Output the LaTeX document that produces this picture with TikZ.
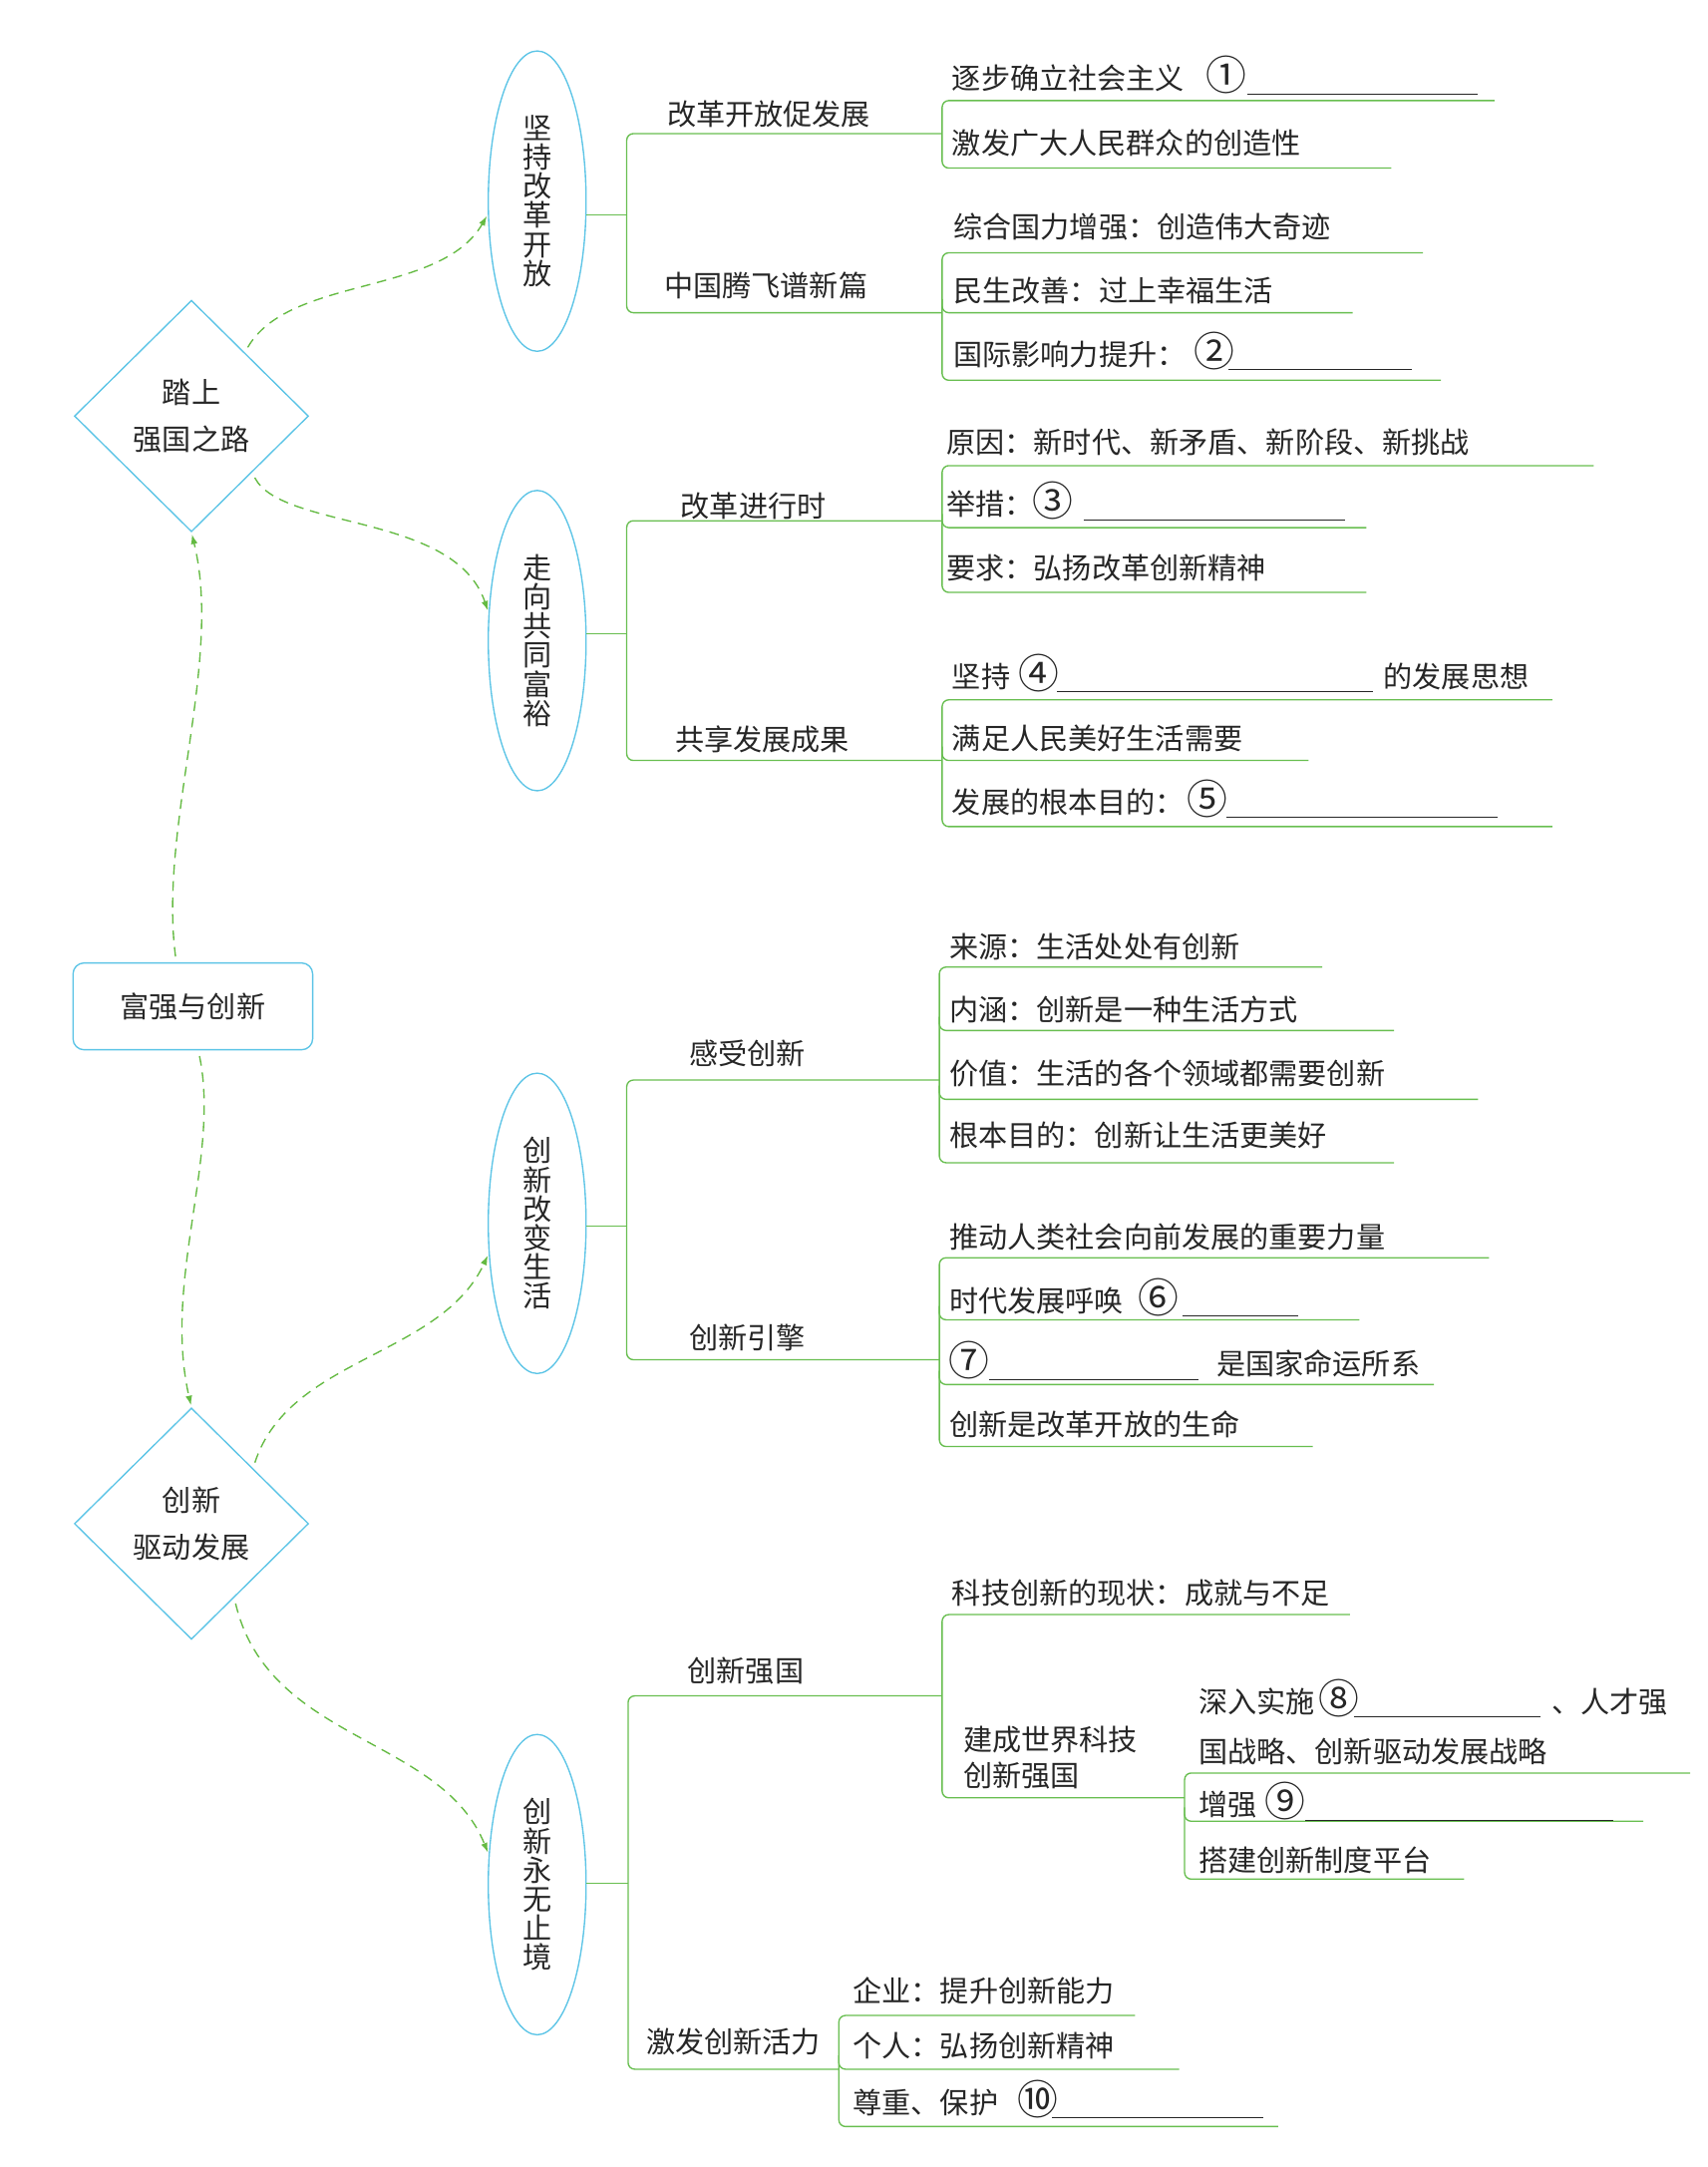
\documentclass[tikz,border=0pt]{standalone}
\usepackage{fontspec}
\setmainfont{Noto Sans CJK SC}
\usetikzlibrary{arrows.meta, shapes.geometric, positioning}

\definecolor{nodeblue}{RGB}{92,196,230}
\definecolor{linegreen}{RGB}{104,190,80}
\definecolor{dashgreen}{RGB}{100,186,66}
\definecolor{inkgray}{RGB}{38,38,38}

\newcommand{\gapline}[1]{\rule[-0.9mm]{#1mm}{0.5pt}}
\newcommand{\qnum}[1]{\makebox[15pt][c]{\raisebox{-0.6pt}{\fontsize{21}{18}\selectfont #1}}}

\tikzset{
  topic/.style={shape=ellipse, draw=nodeblue, line width=0.7pt, minimum width=17.75mm, minimum height=54.5mm, inner sep=0pt, align=center, text=inkgray, font=\fontsize{15}{15}\selectfont},
  stage/.style={shape=diamond, draw=nodeblue, line width=0.7pt, minimum width=42.5mm, minimum height=42mm, inner sep=0pt, align=center, text=inkgray, font=\fontsize{15}{24}\selectfont},
  hub/.style={draw=nodeblue, line width=0.7pt, rounded corners=2mm, minimum width=43.5mm, minimum height=15.75mm, text=inkgray, font=\fontsize{15}{18}\selectfont},
  leaf/.style={anchor=base west, inner sep=0pt, text=inkgray, font=\fontsize{15}{18}\selectfont},
  twig/.style={draw=linegreen, line width=0.7pt, rounded corners=1.2mm},
  flow/.style={draw=dashgreen, line width=0.7pt, dash pattern=on 5pt off 3.5pt, -{Latex[length=5pt,width=3.5pt]}, shorten <=3pt, shorten >=1pt}
}

\begin{document}
\begin{tikzpicture}[x=0.25mm, y=-0.25mm]
\useasboundingbox (0,0) rectangle (1240,1573);

% left column
\node [stage] (road) at (139,302) {踏上\\强国之路};
\node [hub] (hub) at (140,730.5) {富强与创新};
\node [stage] (drive) at (139,1106) {创新\\驱动发展};

\node [topic] (reform) at (390,146) {坚\\持\\改\\革\\开\\放};
\node [topic] (common) at (390,465) {走\\向\\共\\同\\富\\裕};
\node [topic] (life) at (390,888) {创\\新\\改\\变\\生\\活};
\node [topic] (endless) at (390,1368) {创\\新\\永\\无\\止\\境};

\draw [flow] (road.50) .. controls (210,200) and (320,215) .. (reform.195);
\draw [flow] (road.-43) .. controls (205,385) and (330,372) .. (common.150);
\draw [flow] ([xshift=-3mm]hub.north) .. controls (115,600) and (162,480) .. (road.south);
\draw [flow] ([xshift=1mm]hub.south) .. controls (160,840) and (118,930) .. (drive.north);
\draw [flow] (drive.42) .. controls (210,985) and (320,985) .. (life.212);
\draw [flow] (drive.-60) .. controls (195,1265) and (320,1260) .. (endless.148);

% 坚持改革开放
\coordinate (ja) at (455,156);
\draw [twig] (reform.east |- ja) -- (ja);
\draw [twig] (684,97) -- (455,97) -- (455,227) -- (684,227);
\node [leaf] (kf) at (484,91) {改革开放促发展};
\node [leaf] (tf) at (482,215) {中国腾飞谱新篇};

\draw [twig] (1085,73) -- (684,73) -- (684,122) -- (1010,122);
\node [leaf] (kf1) at (691,65) {逐步确立社会主义\hspace{5mm}\qnum{①}\hspace{1.2mm}\gapline{41.75}};
\node [leaf] (kf2) at (691,112) {激发广大人民群众的创造性};

\draw [twig] (1033,183.5) -- (684,183.5) -- (684,276) -- (1046,276);
\draw [twig] (684,217) |- (982,227);
\node [leaf] (tf1) at (692,173) {综合国力增强：创造伟大奇迹};
\node [leaf] (tf2) at (692,219) {民生改善：过上幸福生活};
\node [leaf] (tf3) at (692,265) {国际影响力提升：\hspace{2.5mm}\qnum{②}\gapline{33.25}};

% 走向共同富裕
\coordinate (jb) at (455,460);
\draw [twig] (common.east |- jb) -- (jb);
\draw [twig] (684,378) -- (455,378) -- (455,552) -- (684,552);
\node [leaf] (jx) at (494,375) {改革进行时};
\node [leaf] (gx) at (490,545) {共享发展成果};

\draw [twig] (1157,338) -- (684,338) -- (684,430) -- (992,430);
\draw [twig] (684,373) |- (992,383);
\node [leaf] (jx1) at (687,329) {原因：新时代、新矛盾、新阶段、新挑战};
\node [leaf] (jx2) at (687,374) {举措：\hspace{0.75mm}\qnum{③}\hspace{3mm}\gapline{47.5}};
\node [leaf] (jx3) at (687,420) {要求：弘扬改革创新精神};

\draw [twig] (1127,508) -- (684,508) -- (684,600) -- (1127,600);
\draw [twig] (684,542) |- (950,552);
\node [leaf] (gx1) at (691,499) {坚持\hspace{2.5mm}\qnum{④}\hspace{0.75mm}\gapline{57.25}\hspace{2mm}的发展思想};
\node [leaf] (gx2) at (691,544) {满足人民美好生活需要};
\node [leaf] (gx3) at (691,590) {发展的根本目的：\hspace{1.5mm}\qnum{⑤}\hspace{0.75mm}\gapline{49.25}};

% 创新改变生活
\coordinate (jc) at (455,890);
\draw [twig] (life.east |- jc) -- (jc);
\draw [twig] (682,784) -- (455,784) -- (455,987) -- (682,987);
\node [leaf] (gs) at (500,773) {感受创新};
\node [leaf] (yq) at (500,979) {创新引擎};

\draw [twig] (960,702) -- (682,702) -- (682,844) -- (1012,844);
\draw [twig] (682,738) |- (1012,748);
\draw [twig] (682,788) |- (1073,798);
\node [leaf] (gs1) at (689,695) {来源：生活处处有创新};
\node [leaf] (gs2) at (689,741) {内涵：创新是一种生活方式};
\node [leaf] (gs3) at (689,787) {价值：生活的各个领域都需要创新};
\node [leaf] (gs4) at (689,832) {根本目的：创新让生活更美好};

\draw [twig] (1081,913) -- (682,913) -- (682,1050) -- (953,1050);
\draw [twig] (682,948) |- (987,958);
\draw [twig] (682,995) |- (1041,1005);
\node [leaf] (yq1) at (689,906) {推动人类社会向前发展的重要力量};
\node [leaf] (yq2) at (689,952) {时代发展呼唤\hspace{3.6mm}\qnum{⑥}\hspace{1.75mm}\gapline{21}};
\node [leaf] (yq3) at (689,998) {\hspace{1mm}\qnum{⑦}\hspace{1mm}\gapline{38}\hspace{3.25mm}是国家命运所系};
\node [leaf] (yq4) at (689,1042) {创新是改革开放的生命};

% 创新永无止境
\coordinate (jd) at (456,1367);
\draw [twig] (endless.east |- jd) -- (jd);
\draw [twig] (684,1231) -- (456,1231) -- (456,1502) -- (609,1502);
\node [leaf] (qg) at (499,1221) {创新强国};
\node [leaf] (hl) at (469,1490) {激发创新活力};

\draw [twig] (980,1172) -- (684,1172) -- (684,1305) -- (860,1305);
\node [leaf] (qg1) at (691,1164) {科技创新的现状：成就与不足};
\node [leaf, anchor=west, align=left, font=\fontsize{15}{18.4}\selectfont] (qg2) at (699,1276) {建成世界科技\\创新强国};

\draw [twig] (1227,1287) -- (860,1287) -- (860,1364) -- (1063,1364);
\draw [twig] (860,1312) |- (1193,1322);
\node [leaf, anchor=west, align=left, font=\fontsize{15}{25.9}\selectfont] (qg21) at (870,1250) {深入实施\hspace{1.75mm}\qnum{⑧}\gapline{34}\hspace{2mm}、人才强\\国战略、创新驱动发展战略};
\node [leaf] (qg22) at (870,1318) {增强\hspace{2.5mm}\qnum{⑨}\hspace{1mm}\gapline{56}};
\node [leaf] (qg23) at (870,1358) {搭建创新制度平台};

\draw [twig] (824,1463) -- (609,1463) -- (609,1543.6) -- (928,1543.6);
\draw [twig] (609,1492) |- (856,1502);
\node [leaf] (hl1) at (619,1453) {企业：提升创新能力};
\node [leaf] (hl2) at (619,1493) {个人：弘扬创新精神};
\node [leaf] (hl3) at (619,1534) {尊重、保护\hspace{4.5mm}\qnum{⑩}\gapline{38.25}};
\end{tikzpicture}
\end{document}
